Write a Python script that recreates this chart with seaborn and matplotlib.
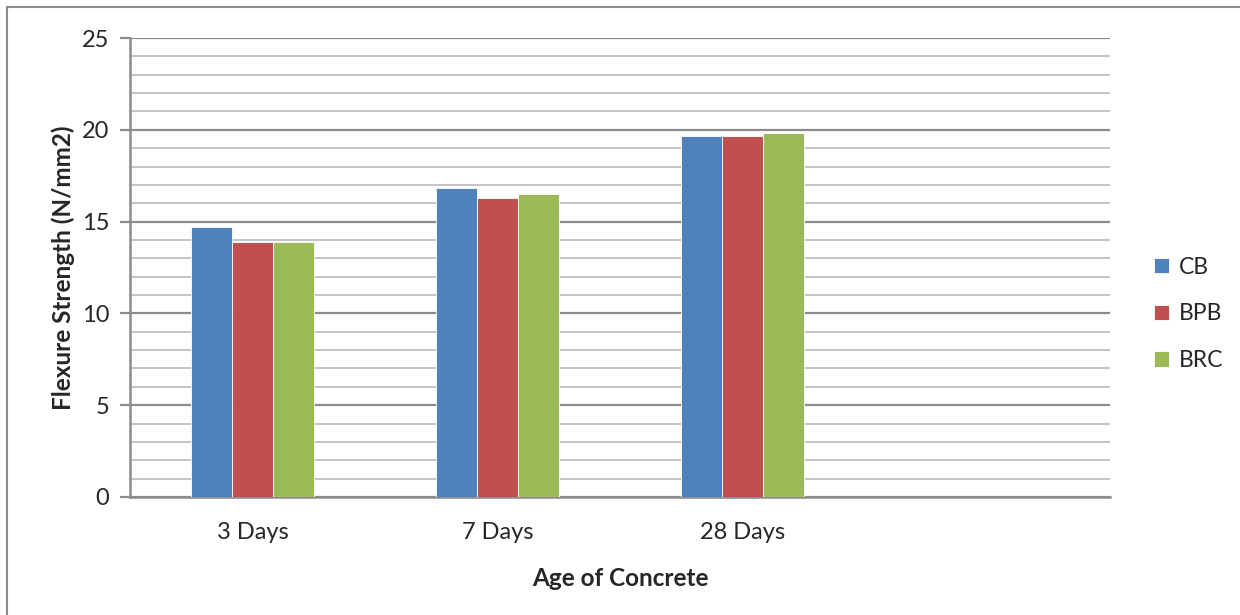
import matplotlib
matplotlib.use("Agg")
import matplotlib.pyplot as plt
import matplotlib.lines as mlines
from matplotlib.ticker import MultipleLocator
import pandas as pd
import seaborn as sns

# -- Data ----------------------------------------------------------------------
ages = ["3 Days", "7 Days", "28 Days", ""]   # 4th slot is empty in the original
series = ["CB", "BPB", "BRC"]
cb = [14.72, 16.85, 19.66]
bpb = [13.89, 16.30, 19.66]
brc = [13.90, 16.50, 19.81]
colors = ["#4F81BD", "#C0504D", "#9BBB59"]

rows = []
for name, vals in zip(series, [cb, bpb, brc]):
    for age, v in zip(ages[:3], vals):
        rows.append({"age": age, "mix": name, "strength": v})
df = pd.DataFrame(rows)

# -- Plot ----------------------------------------------------------------------
sns.set_theme(style="white")
plt.rcParams["font.family"] = ["Lato", "DejaVu Sans"]

fig = plt.figure(figsize=(12.4, 6.15), dpi=100)
ax = fig.add_axes([0.1048, 0.1919, 0.7904, 0.7463])

sns.barplot(data=df, x="age", y="strength", hue="mix", order=ages,
            hue_order=series, palette=colors, width=0.5, saturation=1,
            edgecolor="white", linewidth=0.6, errorbar=None, ax=ax,
            zorder=3)

ax.set_xlim(-0.5, 3.5)
ax.set_ylim(0, 25)
ax.yaxis.set_major_locator(MultipleLocator(5))
ax.yaxis.set_minor_locator(MultipleLocator(1))
ax.grid(which="minor", axis="y", color="#C4C4C4", linewidth=1.4, zorder=0)
ax.grid(which="major", axis="y", color="#8C8C8C", linewidth=1.6, zorder=0)
ax.set_axisbelow(True)

for s in ["top", "right"]:
    ax.spines[s].set_visible(False)
ax.spines["left"].set_color("#8C8C8C")
ax.spines["left"].set_linewidth(1.8)
ax.spines["bottom"].set_color("#8C8C8C")
ax.spines["bottom"].set_linewidth(1.8)

ax.tick_params(axis="y", which="major", direction="out", length=7, width=1.6,
               color="#8C8C8C", labelsize=17, pad=8, left=True)
ax.tick_params(axis="y", which="minor", length=0)
ax.tick_params(axis="x", length=0, labelsize=17, pad=18)

ax.set_xlabel("Age of Concrete", fontsize=17.5, fontweight="bold", labelpad=17)
ax.set_ylabel("Flexure Strength (N/mm2)", fontsize=17.5, fontweight="bold",
              labelpad=5)

leg = ax.legend(loc="center left", bbox_to_anchor=(1.045, 0.399), frameon=False,
                fontsize=16.5, handlelength=0.65, handleheight=0.65,
                handletextpad=0.45, labelspacing=1.12, borderaxespad=0,
                borderpad=0)

# outer chart frame (only left/top visible in the original crop)
fig.add_artist(mlines.Line2D([0.006, 0.006], [0, 0.989], color="#8C8C8C",
                             linewidth=1.5, transform=fig.transFigure))
fig.add_artist(mlines.Line2D([0.006, 1.0], [0.989, 0.989], color="#8C8C8C",
                             linewidth=1.5, transform=fig.transFigure))

fig.savefig("out.png", dpi=100)
